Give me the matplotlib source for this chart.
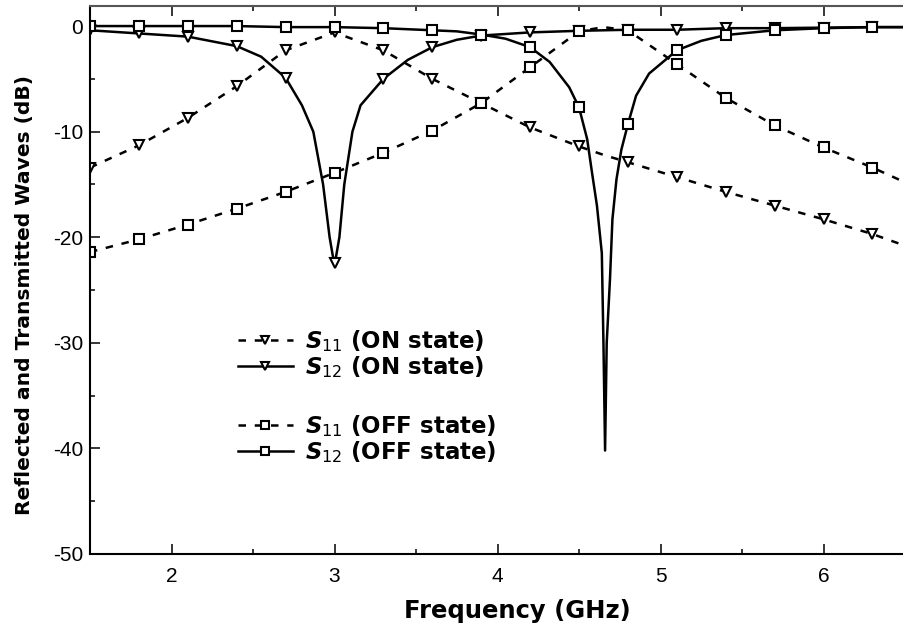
import numpy as np
import matplotlib.pyplot as plt
from matplotlib.ticker import MultipleLocator

plt.rcParams['font.family'] = ['DejaVu Sans']
plt.rcParams['mathtext.fontset'] = 'custom'
plt.rcParams['mathtext.it'] = 'DejaVu Sans:italic:bold'
plt.rcParams['mathtext.rm'] = 'DejaVu Sans'
plt.rcParams['axes.unicode_minus'] = False

# S11: read at the marker frequencies (+ end of the axis)
x_s11 = [1.5, 1.8, 2.1, 2.4, 2.7, 3.0, 3.3, 3.6, 3.9, 4.2, 4.5, 4.65, 4.8,
         5.1, 5.4, 5.7, 6.0, 6.3, 6.5]
s11_on = [-13.4, -11.3, -8.7, -5.7, -2.3, -0.6, -2.3, -5.0, -7.3, -9.6, -11.4, -12.2, -12.9,
          -14.3, -15.7, -17.0, -18.3, -19.7, -20.8]
s11_off = [-21.4, -20.2, -18.8, -17.3, -15.7, -13.9, -12.0, -9.9, -7.3, -3.9, -0.5, -0.1, -0.4,
           -3.6, -6.8, -9.4, -11.5, -13.4, -14.8]

# S12 ON: dip near 3 GHz
x_s12_on = [1.5, 1.8, 2.1, 2.4, 2.55, 2.7, 2.8, 2.87, 2.93, 2.97, 2.99, 3.0, 3.01, 3.03,
            3.06, 3.11, 3.16, 3.3, 3.45, 3.6, 3.75, 3.9, 4.2, 4.5, 4.8, 5.1, 5.4, 5.7,
            6.0, 6.3, 6.5]
s12_on = [-0.4, -0.7, -1.0, -1.9, -2.9, -4.9, -7.5, -10.0, -15.0, -20.0, -21.8, -22.4, -21.8, -20.0,
          -15.0, -10.0, -7.5, -5.0, -3.2, -2.0, -1.3, -0.9, -0.6, -0.45, -0.35, -0.35, -0.2, -0.2,
          -0.15, -0.1, -0.1]

# S12 OFF: sharp dip near 4.66 GHz
x_s12_off = [1.5, 1.8, 2.1, 2.4, 2.7, 3.0, 3.3, 3.6, 3.75, 3.9, 4.05, 4.2, 4.32, 4.44, 4.5,
             4.55, 4.58, 4.61, 4.64, 4.65, 4.66, 4.67, 4.69, 4.705, 4.73, 4.76, 4.8, 4.85,
             4.93, 5.1, 5.25, 5.4, 5.7, 6.0, 6.3, 6.5]
s12_off = [0.0, 0.0, 0.0, 0.0, -0.1, -0.1, -0.2, -0.4, -0.5, -0.8, -1.2, -2.0, -3.4, -5.8, -7.7,
           -10.7, -13.9, -17.0, -21.5, -30.0, -40.2, -30.0, -24.0, -18.3, -14.5, -11.7, -9.3, -6.6,
           -4.5, -2.3, -1.4, -0.85, -0.4, -0.2, -0.1, -0.1]

mk_grid = np.round(np.arange(1.5, 6.31, 0.3), 2)


def marks(x):
    return list(np.where(np.isin(np.round(x, 3), mk_grid))[0])


fig = plt.figure(figsize=(9.04, 6.31), dpi=100)
ax = fig.add_axes([90 / 904, 77 / 631, 815 / 904, 548 / 631])

dash = (0, (3, 3.5))
kw = dict(color='black', linewidth=1.8, markerfacecolor='white',
          markeredgecolor='black', markeredgewidth=1.5)
l1, = ax.plot(x_s11, s11_on, linestyle=dash, marker='v', markersize=7.5,
              markevery=marks(x_s11), **kw)
l2, = ax.plot(x_s12_on, s12_on, linestyle='-', marker='v', markersize=7.5,
              markevery=marks(x_s12_on), **kw)
l3, = ax.plot(x_s11, s11_off, linestyle=dash, marker='s', markersize=6.5,
              markevery=marks(x_s11), **kw)
l4, = ax.plot(x_s12_off, s12_off, linestyle='-', marker='s', markersize=6.5,
              markevery=marks(x_s12_off), **kw)

ax.set_xlim(1.5, 6.5)
ax.set_ylim(-50, 1.9)
ax.xaxis.set_major_locator(MultipleLocator(1))
ax.xaxis.set_minor_locator(MultipleLocator(0.5))
ax.yaxis.set_major_locator(MultipleLocator(10))
ax.yaxis.set_minor_locator(MultipleLocator(5))
ax.tick_params(which='both', direction='in', top=True, right=False, width=1.1)
ax.tick_params(which='major', length=7, labelsize=15)
ax.tick_params(which='minor', length=3.5)
ax.tick_params(axis='x', pad=9)
ax.tick_params(axis='y', pad=5)
for lab in ax.get_xticklabels() + ax.get_yticklabels():
    lab.set_family('Liberation Sans')
for s in ax.spines.values():
    s.set_linewidth(1.5)
ax.spines['top'].set_color('#555555')
ax.spines['right'].set_visible(False)

ax.set_xlabel('Frequency (GHz)', fontsize=17.5, fontweight='bold')
ax.xaxis.set_label_coords(0.525, -0.082)
ax.set_ylabel('Reflected and Transmitted Waves (dB)', fontsize=14.6, fontweight='bold')
ax.yaxis.set_label_coords(-0.069, 0.473)

lkw = dict(frameon=False, prop={'weight': 'bold', 'size': 16.5}, handlelength=2.4,
           handletextpad=0.55, labelspacing=0.02, borderaxespad=0, borderpad=0,
           markerscale=0.85)
leg1 = ax.legend([l1, l2], [r'$S_{\mathrm{11}}\ $(ON state)', r'$S_{\mathrm{12}}\ $(ON state)'],
                 loc='upper left', bbox_to_anchor=(0.181, 0.413), **lkw)
ax.add_artist(leg1)
ax.legend([l3, l4], [r'$S_{\mathrm{11}}\ $(OFF state)', r'$S_{\mathrm{12}}\ $(OFF state)'],
          loc='upper left', bbox_to_anchor=(0.181, 0.258), **lkw)

plt.savefig('out.png', dpi=100)
